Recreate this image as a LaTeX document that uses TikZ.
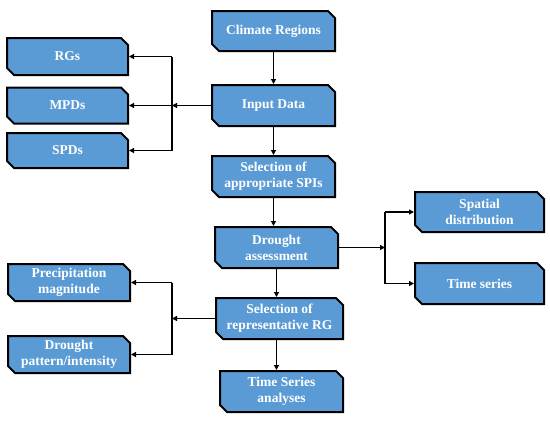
\documentclass[tikz,border=0pt]{standalone}
\usepackage{fontspec}
\setmainfont{Liberation Serif}
\usetikzlibrary{shapes.misc,arrows.meta}
\definecolor{boxblue}{HTML}{5B9BD5}
\tikzset{
  x=1pt,y=-1pt,
  box/.style={chamfered rectangle, chamfered rectangle corners={north east,south west},
    chamfered rectangle xsep=3.5pt, chamfered rectangle ysep=3.5pt,
    draw=black, line width=2pt, fill=boxblue, text=white, inner sep=0pt,
    font=\bfseries\fontsize{13.5}{16}\selectfont, align=center},
  arr/.style={line width=1.6pt, -{Triangle[length=5pt,width=5pt]}},
  ln/.style={line width=1.6pt}
}
\newcommand{\bx}[6]{\node[box, minimum width=#4, minimum height=#5] (#1) at (#2,#3) {#6};}
\begin{document}
\begin{tikzpicture}
\useasboundingbox (0,0) rectangle (550,421);
\bx{climate}{273.5}{31}{123pt}{40pt}{Climate Regions}
\bx{input}{273.5}{105.5}{123pt}{41pt}{Input Data}
\bx{rgs}{67.5}{56.5}{121pt}{37pt}{RGs}
\bx{mpds}{67.5}{105.5}{121pt}{36pt}{MPDs}
\bx{spds}{67.5}{150.5}{121pt}{35pt}{SPDs}
\bx{spis}{273.5}{176.5}{123pt}{41pt}{Selection of\\appropriate SPIs}
\bx{drought}{276.5}{247.5}{123pt}{41pt}{Drought\\assessment}
\bx{spatial}{479.5}{212}{129pt}{40pt}{Spatial\\distribution}
\bx{tseries}{479.5}{283.5}{129pt}{41pt}{Time series}
\bx{precip}{69}{282.5}{122pt}{37pt}{Precipitation\\magnitude}
\bx{pattern}{69}{354.5}{122pt}{37pt}{Drought\\pattern/intensity}
\bx{selrg}{279.5}{318.5}{127pt}{41pt}{Selection of\\representative RG}
\bx{tsa}{281.5}{391.5}{123pt}{41pt}{Time Series\\analyses}

\coordinate (j1) at (172,105.5);
\coordinate (j2) at (385,247.5);
\coordinate (j3) at (172,318.5);

\draw[arr] (climate.south) -- (input.north);
\draw[arr] (input.west) -- (j1);
\draw[ln] (j1) -- (j1 |- rgs.east);
\draw[ln] (j1) -- (j1 |- spds.east);
\draw[arr] (j1 |- rgs.east) -- (rgs.east);
\draw[arr] (j1) -- (mpds.east);
\draw[arr] (j1 |- spds.east) -- (spds.east);
\draw[arr] (input.south) -- (spis.north);
\draw[arr] (spis.south) -- (spis.south |- drought.north);
\draw[arr] (drought.east) -- (j2);
\draw[ln] (j2) -- (j2 |- spatial.west);
\draw[ln] (j2) -- (j2 |- tseries.west);
\draw[arr] (j2 |- spatial.west) -- (spatial.west);
\draw[arr] (j2 |- tseries.west) -- (tseries.west);
\draw[arr] (drought.south) -- (drought.south |- selrg.north);
\draw[arr] (drought.south |- selrg.south) -- (drought.south |- tsa.north);
\draw[arr] (selrg.west) -- (j3);
\draw[ln] (j3 |- precip.east) -- (j3 |- pattern.east);
\draw[arr] (j3 |- precip.east) -- (precip.east);
\draw[arr] (j3 |- pattern.east) -- (pattern.east);
\end{tikzpicture}
\end{document}
